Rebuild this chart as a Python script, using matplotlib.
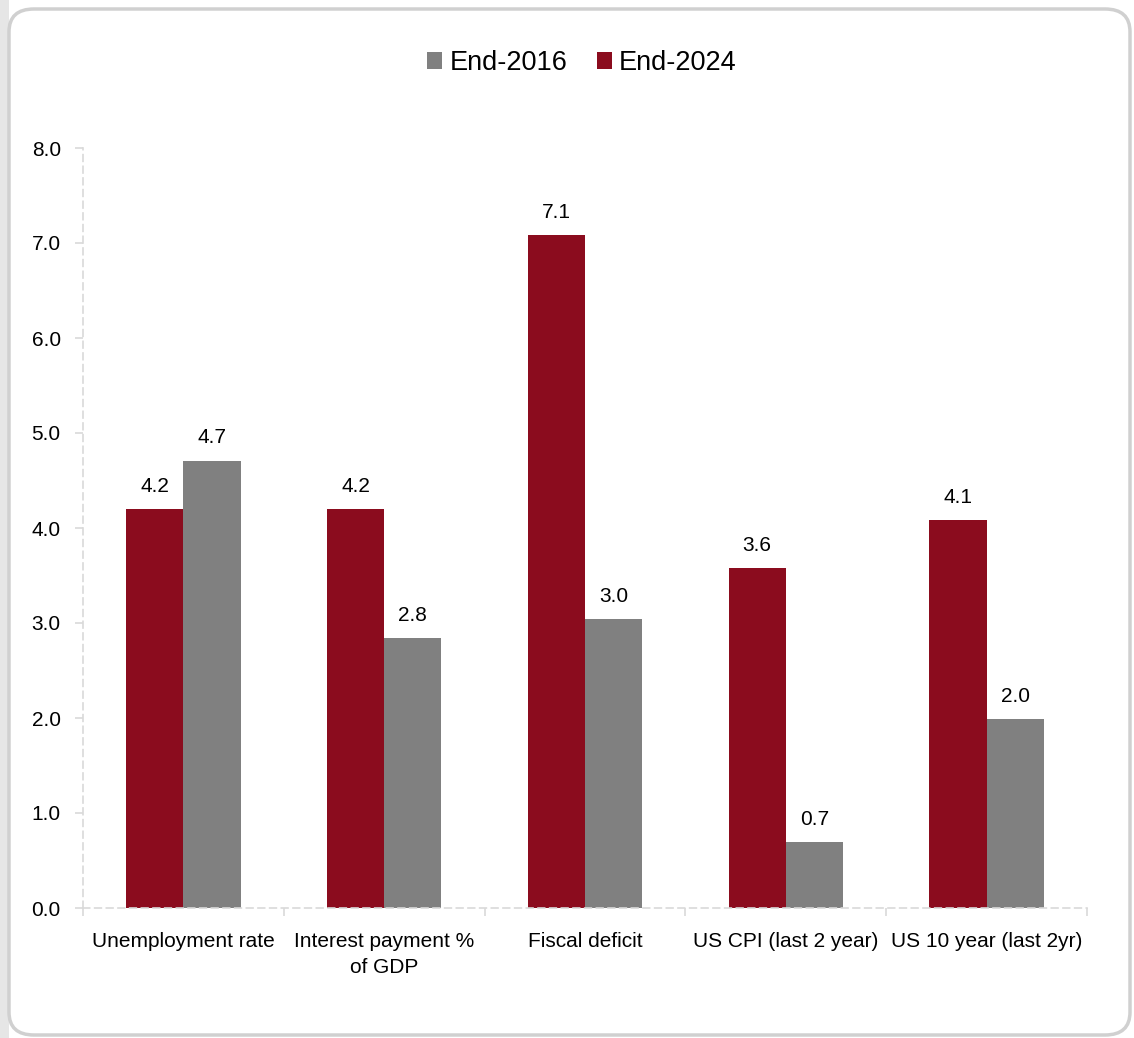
import matplotlib.pyplot as plt
import matplotlib.patches as patches
import numpy as np

plt.rcParams['font.family'] = ['Liberation Sans', 'DejaVu Sans']

categories = ["Unemployment rate", "Interest payment %\nof GDP", "Fiscal deficit",
              "US CPI (last 2 year)", "US 10 year (last 2yr)"]
end_2024 = [4.2, 4.2, 7.08, 3.58, 4.08]
end_2016 = [4.71, 2.84, 3.04, 0.69, 1.99]

RED = "#8B0C1E"
GRAY = "#808080"
AXIS = "#D9D9D9"

W, H = 1134, 1038
fig = plt.figure(figsize=(W / 100, H / 100), dpi=100)
fig.patch.set_facecolor("white")

# card background with rounded corners, grey strip on the left
fig.patches.append(patches.Rectangle((0, 0), 9 / W, 1, transform=fig.transFigure,
                                     facecolor="#E6E6E6", edgecolor="none", zorder=-3))
fig.patches.append(patches.FancyBboxPatch((9 / W, 3 / H), (1130 - 9) / W, (1032 - 6) / H,
                                          boxstyle="round,pad=0,rounding_size=0.022",
                                          transform=fig.transFigure, facecolor="white",
                                          edgecolor="#D0D0D0", linewidth=2.5, zorder=-2))

ax = fig.add_axes([83 / W, 1 - 908 / H, (1087 - 83) / W, (908 - 148) / H])
ax.set_facecolor("none")

x = np.arange(len(categories))
bw = 0.285
bars_red = ax.bar(x - bw / 2, end_2024, bw, color=RED, label="End-2024", zorder=2)
bars_gray = ax.bar(x + bw / 2, end_2016, bw, color=GRAY, label="End-2016", zorder=2)

for bars, vals in ((bars_red, end_2024), (bars_gray, end_2016)):
    for b, v in zip(bars, vals):
        ax.annotate(f"{v:.1f}", (b.get_x() + b.get_width() / 2, v), xytext=(0, 9.5),
                    textcoords="offset points", ha="center", va="bottom", fontsize=15)

ax.set_xlim(-0.5, len(categories) - 0.5)
ax.set_ylim(0, 8)
ax.set_yticks(np.arange(0, 8.1, 1.0))
ax.set_yticklabels([f"{v:.1f}" for v in np.arange(0, 8.1, 1.0)])

ax.set_xticks(x)
ax.set_xticklabels(categories, fontsize=15, linespacing=1.5)
ax.set_xticks(np.arange(-0.5, len(categories), 1.0), minor=True)
ax.tick_params(axis="x", which="major", length=0, pad=17)
ax.tick_params(axis="x", which="minor", length=6, color=AXIS, width=1.2)
ax.tick_params(axis="y", length=6, color=AXIS, width=1.2, labelsize=15, pad=10)

for side in ("top", "right"):
    ax.spines[side].set_visible(False)
for side in ("left", "bottom"):
    ax.spines[side].set_color(AXIS)
    ax.spines[side].set_linestyle((0, (4, 3)))
    ax.spines[side].set_linewidth(1.2)

handles, labels = ax.get_legend_handles_labels()
fig.legend(handles[::-1], labels[::-1], loc="center", bbox_to_anchor=(582 / W, 1 - 63 / H),
           ncol=2, frameon=False, fontsize=19.5, handlelength=0.55, handleheight=0.55,
           handletextpad=0.27, columnspacing=1.1)

fig.savefig("out.png", dpi=100)
